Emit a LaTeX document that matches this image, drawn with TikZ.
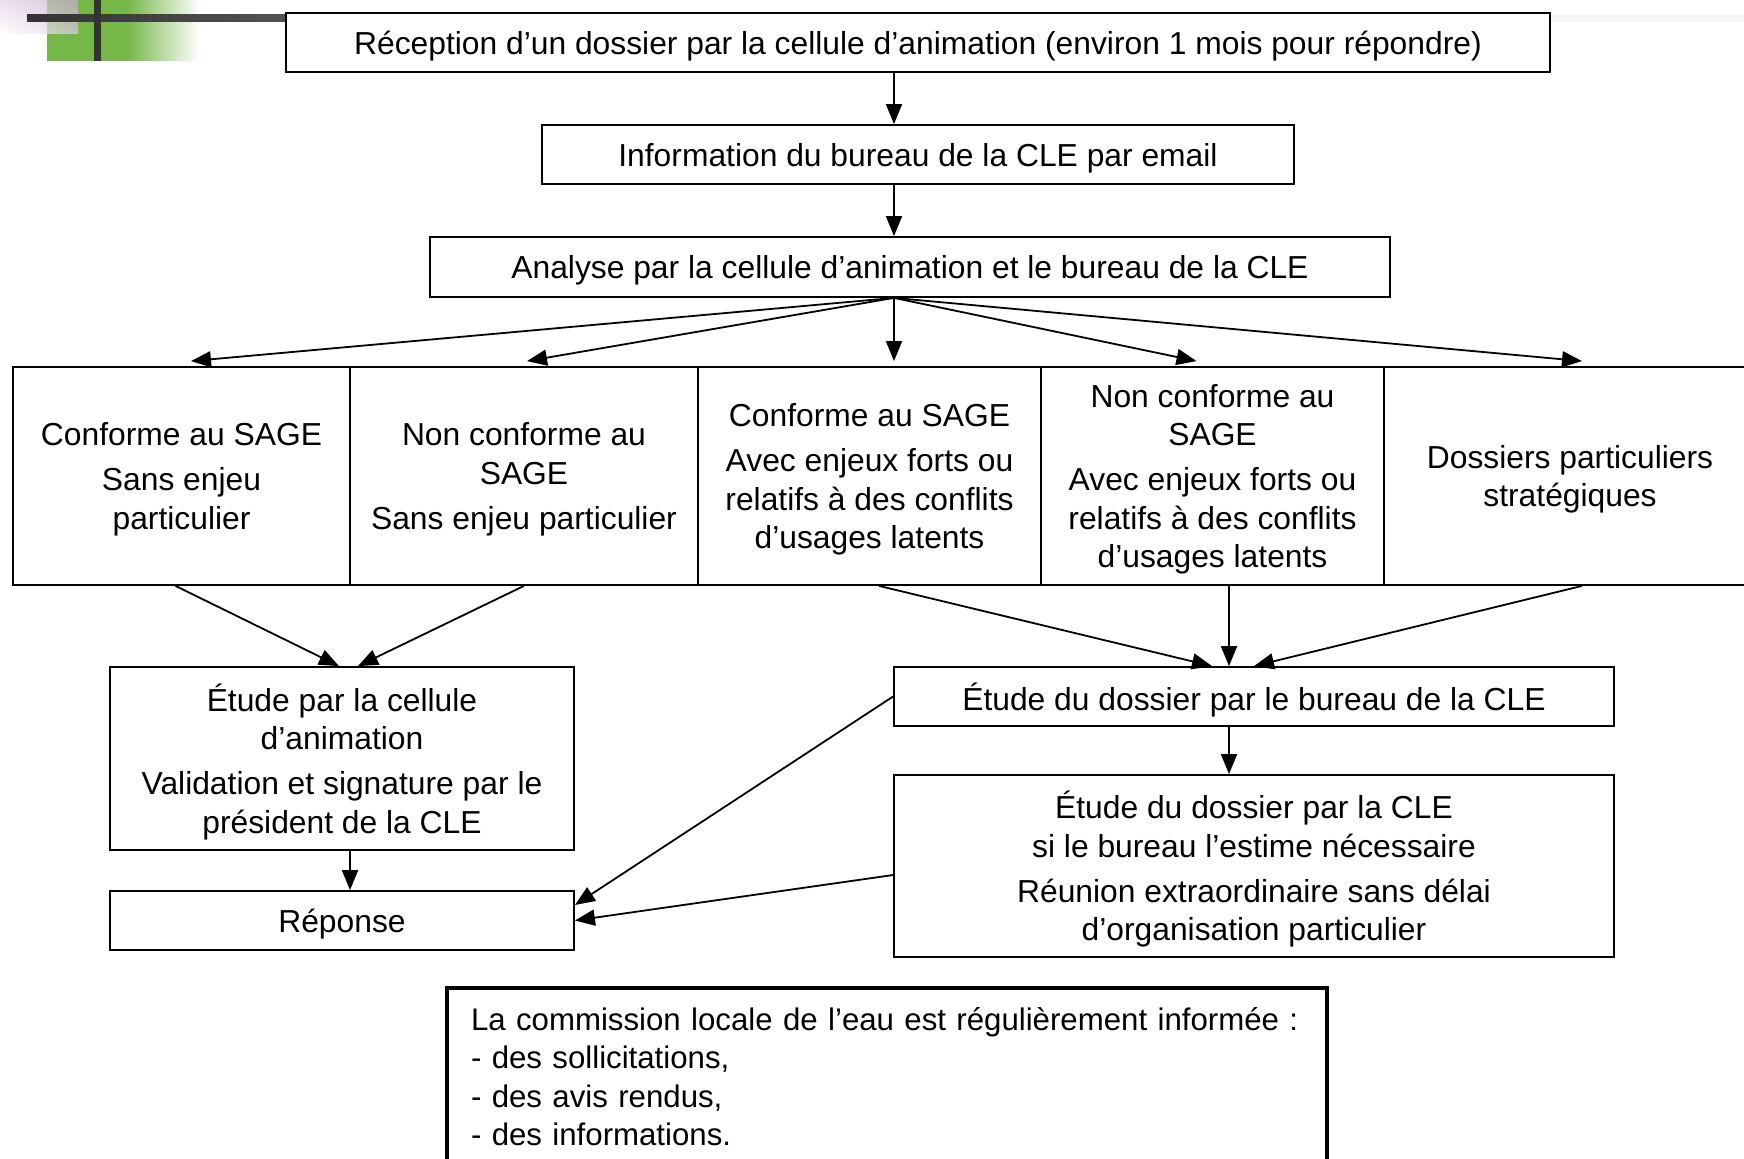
\documentclass[tikz,border=0pt]{standalone}
\usepackage{fontspec}
\setmainfont{Liberation Sans}
\usetikzlibrary{arrows.meta,shadings}
\definecolor{decoGreen}{RGB}{118,184,72}
\definecolor{decoPurple}{RGB}{196,168,206}
\definecolor{decoBar}{RGB}{51,51,51}
\newcommand{\parGap}{\\[3.3pt]}
\begin{document}
\begin{tikzpicture}[%%
  x=0.5pt,y=-0.5pt,
  font=\fontsize{15.9}{19.2}\selectfont,
  boxStyle/.style={draw,line width=0.9pt,align=center,inner sep=0pt,text depth=0pt},
  rowStyle/.style={boxStyle,minimum height=109pt},
  arrowStyle/.style={-{Triangle[length=10pt,width=8pt]},line width=0.9pt},
  noteStyle/.style={draw,line width=2pt,align=left,anchor=north west,
    font=\fontsize{15.6}{19.2}\selectfont,
    inner xsep=12pt,inner ysep=10pt,text width=416pt}
]
%%
\useasboundingbox (0,0) rectangle (1744,1159);
%% Decoration in the top left corner.
\fill[decoGreen] (47,0) rectangle (127,61);
\shade[left color=decoGreen,right color=white] (127,0) rectangle (200,61);
\shade[upper right=decoPurple,upper left=decoPurple!50!white,
  lower right=decoPurple!60!white,lower left=white,opacity=0.7]
  (0,0) rectangle (78,34);
\shade[left color=decoBar,right color=decoBar!85!white] (27,15) rectangle (285,22);
\fill[decoBar] (94,0) rectangle (101,61);
\fill[black!4] (1550,15) rectangle (1744,22);
%%
%% Spines of the vertical arrows.
\coordinate (spine) at (894,0);
\coordinate (spineB) at (1229,0);
%%
%% Top of the chart.
\node[boxStyle,minimum width=632pt,minimum height=29.5pt] (reception) at (918,42.5)
  {Réception d’un dossier par la cellule d’animation (environ 1 mois pour répondre)};
\node[boxStyle,minimum width=376pt,minimum height=29.5pt] (information) at (918,154.5)
  {Information du bureau de la CLE par email};
\node[boxStyle,minimum width=480pt,minimum height=30pt] (analyse) at (910,267)
  {Analyse par la cellule d’animation et le bureau de la CLE};
%%
%% The five kinds of dossiers.
\node[rowStyle,minimum width=168.5pt] (confA) at (181.5,476)
  {Conforme au SAGE\parGap Sans enjeu\\particulier};
\node[rowStyle,minimum width=174pt] (nonConfA) at (524,476)
  {Non conforme au\\SAGE\parGap Sans enjeu particulier};
\node[rowStyle,minimum width=171.5pt] (confB) at (869.5,476)
  {Conforme au SAGE\parGap Avec enjeux forts ou\\relatifs à des conflits\\d’usages latents};
\node[rowStyle,minimum width=171.5pt] (nonConfB) at (1212.5,476)
  {Non conforme au\\SAGE\parGap Avec enjeux forts ou\\relatifs à des conflits\\d’usages latents};
\node[rowStyle,minimum width=186pt] (strategique) at (1570,476)
  {Dossiers particuliers\\stratégiques};
%%
%% Lower part.
\node[boxStyle,minimum width=232pt,minimum height=91.5pt] (etude) at (342,758.5)
  {Étude par la cellule\\d’animation\parGap Validation et signature par le\\président de la CLE};
\node[boxStyle,minimum width=232pt,minimum height=29.5pt] (reponse) at (342,920.5)
  {Réponse};
\node[boxStyle,minimum width=360pt,minimum height=29.5pt] (bureau) at (1254,696.5)
  {Étude du dossier par le bureau de la CLE};
\node[boxStyle,minimum width=360pt,minimum height=91pt] (cle) at (1254,866)
  {Étude du dossier par la CLE\\si le bureau l’estime nécessaire\parGap
   Réunion extraordinaire sans délai\\d’organisation particulier};
\node[noteStyle] (note) at (445,985.5)
  {La commission locale de l’eau est régulièrement informée~:\\
   - des sollicitations,\\- des avis rendus,\\- des informations.};
%%
%% Arrows.
\draw[arrowStyle] (reception.south -| spine) -- (information.north -| spine);
\draw[arrowStyle] (information.south -| spine) -- (analyse.north -| spine);
\draw[arrowStyle] (analyse.south -| spine) -- ([xshift=4.75pt,yshift=2.5pt]confA.north);
\draw[arrowStyle] (analyse.south -| spine) -- ([xshift=1.5pt,yshift=2.5pt]nonConfA.north);
\draw[arrowStyle] (analyse.south -| spine) -- ([yshift=2.5pt]confB.north -| spine);
\draw[arrowStyle] (analyse.south -| spine) -- ([xshift=-8pt,yshift=2.5pt]nonConfB.north);
\draw[arrowStyle] (analyse.south -| spine) -- ([xshift=6pt,yshift=2.5pt]strategique.north);
%%
\draw[arrowStyle] ([xshift=-3pt]confA.south) -- ([xshift=-1.5pt]etude.north);
\draw[arrowStyle] (nonConfA.south) -- ([xshift=8pt]etude.north);
\draw[arrowStyle] ([xshift=4.75pt]confB.south) -- ([xshift=-21pt]bureau.north);
\draw[arrowStyle] (nonConfB.south -| spineB) -- (bureau.north -| spineB);
\draw[arrowStyle] ([xshift=6pt]strategique.south) -- (bureau.north);
%%
\draw[arrowStyle] ([xshift=4pt]etude.south) -- ([xshift=4pt]reponse.north);
\draw[arrowStyle] (bureau.south -| spineB) -- (cle.north -| spineB);
\draw[arrowStyle] (bureau.west) -- ([yshift=7.75pt]reponse.east);
\draw[arrowStyle] ([yshift=-4.5pt]cle.west) -- (reponse.east);
\end{tikzpicture}
\end{document}
